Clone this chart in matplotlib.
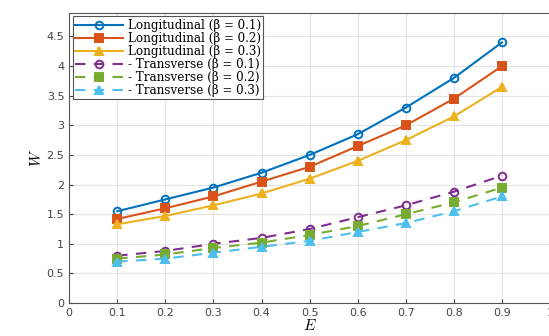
import matplotlib
matplotlib.use("Agg")
import matplotlib.pyplot as plt

E = [0.1, 0.2, 0.3, 0.4, 0.5, 0.6, 0.7, 0.8, 0.9]
long_b01 = [1.55, 1.75, 1.95, 2.20, 2.50, 2.85, 3.30, 3.80, 4.40]
long_b02 = [1.42, 1.60, 1.80, 2.05, 2.30, 2.65, 3.00, 3.45, 4.00]
long_b03 = [1.33, 1.47, 1.65, 1.85, 2.10, 2.40, 2.75, 3.15, 3.65]
tran_b01 = [0.80, 0.88, 1.00, 1.10, 1.25, 1.45, 1.65, 1.88, 2.15]
tran_b02 = [0.75, 0.82, 0.93, 1.02, 1.15, 1.30, 1.50, 1.70, 1.95]
tran_b03 = [0.70, 0.75, 0.85, 0.95, 1.05, 1.20, 1.35, 1.55, 1.80]
labels = ["Longitudinal (β = 0.1)", "Longitudinal (β = 0.2)",
          "Longitudinal (β = 0.3)", "- Transverse (β = 0.1)",
          "- Transverse (β = 0.2)", "- Transverse (β = 0.3)"]
xticks = [0, 0.1, 0.2, 0.3, 0.4, 0.5, 0.6, 0.7, 0.8, 0.9, 1]
yticks = [0, 0.5, 1, 1.5, 2, 2.5, 3, 3.5, 4, 4.5]

plt.rcParams['mathtext.fontset'] = 'cm'
fig = plt.figure(figsize=(5.49, 3.36), dpi=100)
ax = fig.add_axes([0.126, 0.098, 0.876, 0.864])

colors = ['#0072BD', '#D95319', '#EDB120', '#7E2F8E', '#77AC30', '#4DBEEE']
series = [long_b01, long_b02, long_b03, tran_b01, tran_b02, tran_b03]
markers = ['o', 's', '^', 'o', 's', '^']
for i, (ys, c, m, lab) in enumerate(zip(series, colors, markers, labels)):
    filled = i in (1, 2, 4, 5)
    kw = dict(linestyle='-') if i < 3 else dict(linestyle='--', dashes=(5, 4))
    ax.plot(E, ys, color=c, marker=m, markersize=5.5, linewidth=1.5,
            markerfacecolor=c if filled else 'none', markeredgewidth=1.4,
            label=lab, **kw)

ax.set_xlim(0, 1)
ax.set_ylim(0, 4.9)
ax.set_xticks(xticks)
ax.set_xticklabels(['0', '0.1', '0.2', '0.3', '0.4', '0.5', '0.6', '0.7', '0.8', '0.9', '1'])
ax.set_yticks(yticks)
ax.set_yticklabels(['0', '0.5', '1', '1.5', '2', '2.5', '3', '3.5', '4', '4.5'])
ax.tick_params(labelsize=8, colors='#444444', direction='in', length=3)
ax.grid(True, color='#e3e3e3', linewidth=0.8)
for s in ax.spines.values():
    s.set_color('#555555')
ax.set_xlabel(r"$E$", fontsize=11, labelpad=0)
ax.set_ylabel(r"$W$", fontsize=11, labelpad=2)

leg = ax.legend(loc='upper left', prop={'family': 'DejaVu Serif', 'size': 8.6},
                frameon=True, fancybox=False, edgecolor='#555555',
                borderaxespad=0.3, handlelength=4.0, labelspacing=0.0,
                borderpad=0.2, handletextpad=0.4, framealpha=1)
leg.get_frame().set_linewidth(0.8)

fig.savefig('out.png', dpi=100)
